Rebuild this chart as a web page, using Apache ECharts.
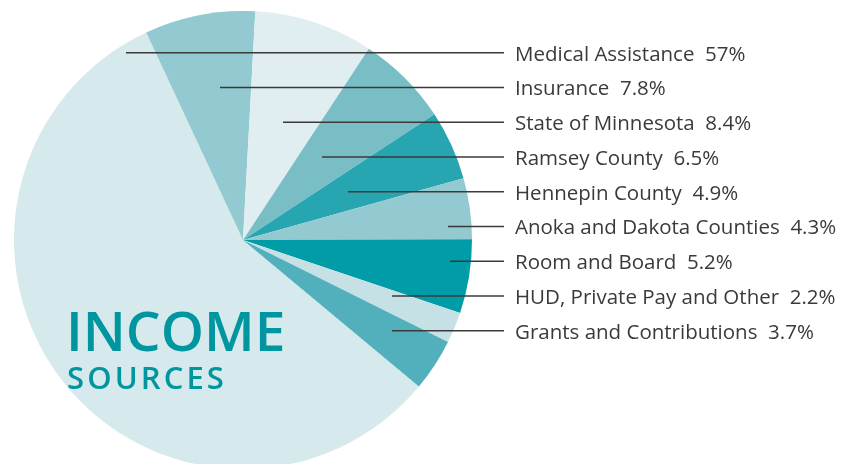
<!DOCTYPE html>
<html>
<head>
<meta charset="utf-8">
<script src="https://cdn.jsdelivr.net/npm/echarts@6/dist/echarts.min.js"></script>
<style>
  html, body { margin: 0; padding: 0; background: #fff; }
  #chart { width: 845px; height: 464px; }
</style>
</head>
<body>
<div id="chart"></div>
<script>
/* data */
const sources = ['Medical Assistance', 'Insurance', 'State of Minnesota', 'Ramsey County',
    'Hennepin County', 'Anoka and Dakota Counties', 'Room and Board',
    'HUD, Private Pay and Other', 'Grants and Contributions'];
const shares = [57, 7.8, 8.4, 6.5, 4.9, 4.3, 5.2, 2.2, 3.7];
const shareLabels = ['57%', '7.8%', '8.4%', '6.5%', '4.9%', '4.3%', '5.2%', '2.2%', '3.7%'];

/* styles */
const colors = ['#d6e9ec', '#93c9d0', '#e0eef1', '#79bec5', '#27a6b2',
    '#93c9d0', '#009ca7', '#c5e1e5', '#52b0bc'];
const cx = 243, cy = 240, r = 229;
const rowTop = 52.7, rowGap = 34.75;    // label rows
const textX = 515, lineEndX = 504;
const leaderX = [126, 220, 283, 322, 348, 448, 450, 392, 392]; // where each leader starts
// Insurance begins 25deg left of 12 o'clock; Medical Assistance (first) wraps round before it
const startAngle = 90 + 25 + shares[0] / 100 * 360;
const hair = '\u200A';

let myChart = echarts.init(document.getElementById('chart'));

/* leader lines, one per row */
let leaders = sources.map((s, i) => {
    let y = rowTop + rowGap * i;
    return {
        type: 'line',
        z: 100,
        silent: true,
        shape: {x1: leaderX[i], y1: y, x2: lineEndX, y2: y},
        style: {stroke: '#3a3a3a', lineWidth: 1.5}
    };
});

let option = {
    animation: false,
    graphic: [
        {
            type: 'text', left: 66, top: 308, z: 100,
            style: {text: 'INCOME', fill: '#00969f', font: '600 55px "Open Sans"'}
        },
        {
            type: 'text', left: 67, top: 365, z: 100,
            style: {text: 'SOURCES'.split('').join(hair), fill: '#00969f', font: '600 31px "Open Sans"'}
        }
    ].concat(leaders),
    series: [
        {
            type: 'pie',
            center: [cx, cy],
            radius: r,
            startAngle: startAngle,
            clockwise: true,
            silent: true,
            itemStyle: {borderWidth: 0},
            data: sources.map((name, i) => ({
                name: name,
                value: shares[i],
                itemStyle: {color: colors[i]}
            })),
            label: {
                show: true,
                position: 'outside',
                overflow: 'none',
                formatter: (p) => p.name + '  ' + shareLabels[p.dataIndex],
                color: '#3a3a3a',
                fontFamily: 'Open Sans',
                fontSize: 20.5
            },
            labelLine: {show: false},
            labelLayout: (p) => ({
                x: textX,
                y: rowTop + rowGap * p.dataIndex + 2,
                align: 'left',
                verticalAlign: 'middle'
            })
        }
    ]
};

myChart.setOption(option);
</script>
</body>
</html>
